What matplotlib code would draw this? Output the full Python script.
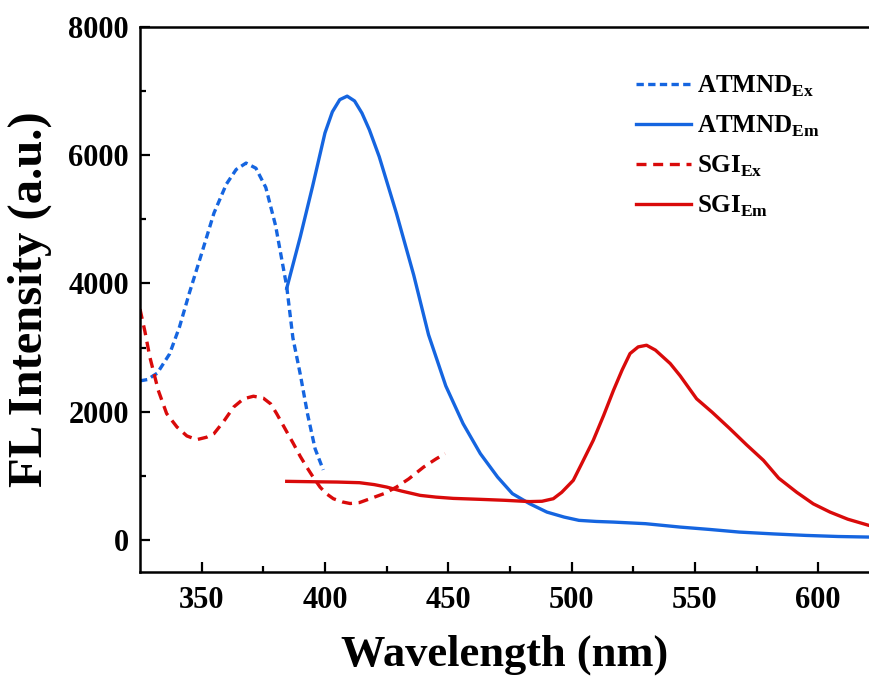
import matplotlib
matplotlib.use("Agg")
import matplotlib.pyplot as plt

plt.rcParams['font.family'] = ['Liberation Serif', 'DejaVu Serif']
plt.rcParams['font.weight'] = 'bold'
plt.rcParams['mathtext.fontset'] = 'custom'
plt.rcParams['mathtext.rm'] = 'Liberation Serif:bold'
plt.rcParams['mathtext.bf'] = 'Liberation Serif:bold'

# ATMND excitation (dashed blue)
atmnd_ex_x = [325, 328, 332, 337, 341, 345, 350, 355, 360, 364, 368, 372, 376, 380,
              384.5, 387, 390, 393, 396, 399.3]
atmnd_ex_y = [2480, 2500, 2600, 2900, 3320, 3850, 4470, 5100, 5550, 5780, 5880, 5800,
              5500, 4900, 3950, 3150, 2580, 1950, 1420, 1090]

# ATMND emission (solid blue)
atmnd_em_x = [384.5, 390, 395, 400, 403, 406, 409, 412, 415, 418, 422, 429, 436, 442,
              449, 456, 463, 470, 476, 483, 490, 497, 503, 510, 517, 530, 544, 556, 568,
              582, 595, 608, 620.6]
atmnd_em_y = [3925, 4730, 5520, 6350, 6680, 6870, 6925, 6850, 6660, 6400, 5980, 5094,
              4130, 3200, 2400, 1812, 1344, 978, 719, 562, 431, 353, 302, 285, 275, 250,
              197, 160, 119, 90, 67, 50, 41]

# SGI excitation (dashed red)
sgi_ex_x = [325, 327, 329, 332.4, 335.8, 340, 344, 348, 352, 355, 359, 363, 367, 371,
            375, 378, 380.4, 384, 387.2, 390, 392.6, 395, 398, 400.5, 403.4, 407, 410.2,
            414, 418.3, 424, 429, 434, 440, 445, 448.7]
sgi_ex_y = [3600, 3250, 2850, 2333, 1969, 1759, 1620, 1562, 1600, 1656, 1850, 2072,
            2200, 2240, 2210, 2120, 1969, 1720, 1500, 1300, 1134, 990, 822, 720, 640,
            590, 565, 580, 640, 720, 822, 950, 1134, 1260, 1344]

# SGI emission (solid red)
sgi_em_x = [384.5, 395, 405, 414, 420, 425, 431, 438.6, 445, 452, 463, 473, 483, 488,
            492.6, 496, 500.7, 504, 508.8, 513, 517, 520.5, 523.7, 527, 530.4, 534, 540,
            544, 550.7, 557, 564, 571, 577.8, 584, 591.3, 598, 604.8, 612, 620.6]
sgi_em_y = [911, 905, 900, 890, 860, 822, 760, 692, 665, 645, 630, 615, 595, 600, 640,
            740, 927, 1180, 1552, 1940, 2333, 2650, 2906, 3010, 3036, 2960, 2750, 2560,
            2200, 1990, 1740, 1480, 1239, 960, 740, 560, 431, 320, 223]

labels = [r'ATMND$_{\mathrm{Ex}}$', r'ATMND$_{\mathrm{Em}}$',
          r'SGI$_{\mathrm{Ex}}$', r'SGI$_{\mathrm{Em}}$']
x_ticks = [350, 400, 450, 500, 550, 600]
y_ticks = [0, 2000, 4000, 6000, 8000]

blue = '#1565E0'
red = '#D90A0A'

fig = plt.figure(figsize=(8.69, 6.77), dpi=100)
ax = fig.add_axes([0.1611, 0.1555, 0.8389, 0.8042])

lw = 2.4
ax.plot(atmnd_ex_x, atmnd_ex_y, color=blue, lw=lw, dashes=(2.2, 1.3), label=labels[0])
ax.plot(atmnd_em_x, atmnd_em_y, color=blue, lw=lw, label=labels[1])
ax.plot(sgi_ex_x, sgi_ex_y, color=red, lw=lw, dashes=(3.0, 2.0), label=labels[2])
ax.plot(sgi_em_x, sgi_em_y, color=red, lw=lw, label=labels[3])

ax.set_xlim(325, 620.6)
ax.set_ylim(-500, 8000)
ax.set_xticks(x_ticks)
ax.set_yticks(y_ticks)
ax.set_xticks([375, 425, 475, 525, 575], minor=True)
ax.set_yticks([1000, 3000, 5000, 7000], minor=True)
ax.tick_params(which='major', direction='in', length=7, width=1.6, labelsize=22)
ax.tick_params(axis='x', which='major', pad=10)
ax.tick_params(axis='y', which='major', pad=8)
ax.tick_params(which='minor', direction='in', length=4, width=1.6)
ax.tick_params(top=False, right=False, which='both')
for lab in ax.get_xticklabels() + ax.get_yticklabels():
    lab.set_fontweight('bold')

for s in ['left', 'bottom', 'top']:
    ax.spines[s].set_linewidth(1.8)
ax.spines['right'].set_visible(False)

ax.set_xlabel('Wavelength (nm)', fontsize=32, fontweight='bold', labelpad=14)
ax.set_ylabel('FL Intensity (a.u.)', fontsize=35, fontweight='bold', labelpad=12)

leg = ax.legend(loc='upper left', bbox_to_anchor=(0.680, 0.915), frameon=False,
                fontsize=18, handlelength=2.2, handletextpad=0.25, labelspacing=0.6,
                borderpad=0, borderaxespad=0)

fig.savefig('out.png', dpi=100)
